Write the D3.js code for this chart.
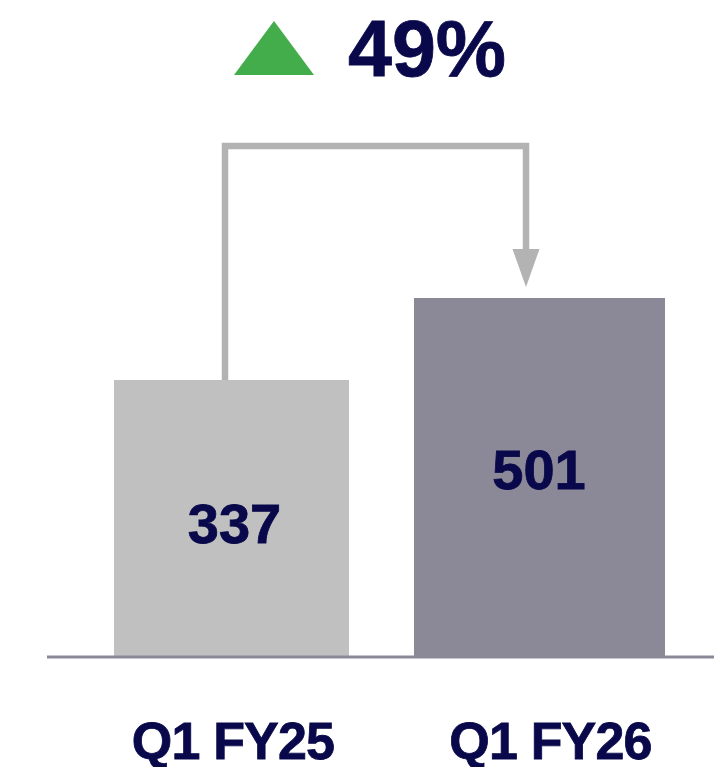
<!DOCTYPE html>
<html>
<head>
<meta charset="utf-8">
<script src="https://cdn.jsdelivr.net/npm/d3@7"></script>
<style>
  html, body { margin: 0; padding: 0; background: #fff; }
  svg { display: block; }
  text { font-family: "Liberation Sans", Arial, sans-serif; font-weight: bold; fill: #08084a; stroke: #08084a; stroke-width: 0.8; }
</style>
</head>
<body>
<script>
// data
const categories = ['Q1 FY25', 'Q1 FY26'];
const values = [337, 501];
const changeLabel = ['49%'];

const width = 719;
const height = 767;
const barColors = ['#c0c0c0', '#8b8898'];

const svg = d3.select('body')
  .append('svg')
  .attr('width', width)
  .attr('height', height);

// scales - bars don't start at zero in the original, so the domain is shifted
const x = d3.scaleBand()
  .domain(categories)
  .range([114, 665])
  .paddingInner(0.211);

const y = d3.scaleLinear()
  .domain([-217, 501])
  .range([657, 298]);

// small per-bar tweaks so the two bars get their slightly different widths
const barShift = [[0, -8], [-8, 0]];

svg.selectAll('.bar')
  .data(values)
  .enter()
  .append('rect')
  .attr('class', 'bar')
  .attr('x', (d, i) => x(categories[i]) + barShift[i][0])
  .attr('width', (d, i) => x.bandwidth() - barShift[i][0] + barShift[i][1])
  .attr('y', d => y(d))
  .attr('height', d => y(y.domain()[0]) - y(d))
  .attr('fill', (d, i) => barColors[i]);

// baseline
svg.append('line')
  .attr('x1', 47)
  .attr('x2', 714)
  .attr('y1', y(y.domain()[0]))
  .attr('y2', y(y.domain()[0]))
  .attr('stroke', '#8b8898')
  .attr('stroke-width', 3);

// value labels inside bars
const valueDx = [-1, -4.5];
svg.selectAll('.value')
  .data(values)
  .enter()
  .append('text')
  .attr('class', 'value')
  .attr('x', (d, i) => x(categories[i]) + x.bandwidth() / 2 + valueDx[i])
  .attr('y', (d, i) => i === 0 ? 543 : 489)
  .attr('text-anchor', 'middle')
  .attr('font-size', 56)
  .text(d => d);

// category labels
const labelDx = [-2.5, 7];
svg.selectAll('.cat')
  .data(categories)
  .enter()
  .append('text')
  .attr('class', 'cat')
  .attr('x', (d, i) => x(d) + x.bandwidth() / 2 + labelDx[i])
  .attr('y', 759)
  .attr('text-anchor', 'middle')
  .attr('font-size', 52)
  .attr('letter-spacing', -0.8)
  .text(d => d);

// connector arrow from first bar to second
const ax1 = x(categories[0]) + x.bandwidth() / 2 - 10.5;
const ax2 = x(categories[1]) + x.bandwidth() / 2 - 17.5;
const topY = 146;
const headLen = 38;
const headTip = y(values[1]) - 11;
svg.append('path')
  .attr('d', d3.line()([[ax1, y(values[0])], [ax1, topY], [ax2, topY], [ax2, headTip - headLen + 1]]))
  .attr('fill', 'none')
  .attr('stroke', '#b3b3b3')
  .attr('stroke-width', 6.5)
  .attr('stroke-linejoin', 'miter');

svg.append('path')
  .attr('d', d3.line()([[ax2 - 13.5, headTip - headLen], [ax2 + 13.5, headTip - headLen], [ax2, headTip]]) + 'Z')
  .attr('fill', '#b3b3b3');

// header: green up triangle and change
svg.append('path')
  .attr('d', d3.line()([[234, 75], [314, 75], [274, 21]]) + 'Z')
  .attr('fill', '#43ad4b');

svg.append('text')
  .attr('x', 348)
  .attr('y', 76)
  .attr('font-size', 79)
  .text(changeLabel[0]);
</script>
</body>
</html>
